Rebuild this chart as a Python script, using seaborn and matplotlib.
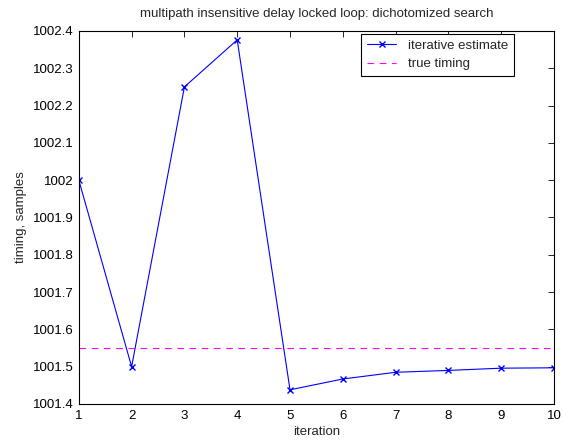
import matplotlib
matplotlib.use("Agg")
import matplotlib.pyplot as plt
import seaborn as sns
import pandas as pd
import numpy as np

# data
iteration = [1, 2, 3, 4, 5, 6, 7, 8, 9, 10]
estimate = [1002.0, 1001.5, 1002.25, 1002.376, 1001.438, 1001.467, 1001.485, 1001.49, 1001.496, 1001.497]
true_timing = 1001.55

df = pd.DataFrame({'iteration': iteration, 'timing': estimate})

sns.set_style('white')
plt.rcParams['font.family'] = ['Liberation Sans', 'DejaVu Sans']
fs = 9.5

fig = plt.figure(figsize=(5.63, 4.42), dpi=100)
ax = fig.add_axes([0.140, 0.086, 0.844, 0.844])

sns.lineplot(data=df, x='iteration', y='timing', ax=ax, color='blue', marker='x',
             markersize=4, markeredgewidth=1.0, markeredgecolor='blue', linewidth=0.8,
             label='iterative estimate')
ax.axhline(true_timing, color='magenta', linestyle=(0, (6, 5)), linewidth=0.8, label='true timing')

ax.set_xlim(1, 10)
ax.set_ylim(1001.4, 1002.4)
ax.set_xticks(iteration)
ax.set_yticks(np.round(np.arange(1001.4, 1002.41, 0.1), 1))
ax.set_yticklabels(['1001.4', '1001.5', '1001.6', '1001.7', '1001.8', '1001.9', '1002',
                    '1002.1', '1002.2', '1002.3', '1002.4'])

ax.tick_params(direction='in', length=4, width=0.6, top=True, right=True, labelsize=fs, pad=4,
               colors='black')
for s in ax.spines.values():
    s.set_color('black')
    s.set_linewidth(0.8)

ax.set_xlabel('iteration', fontsize=fs, labelpad=3)
ax.set_ylabel('timing, samples', fontsize=fs, labelpad=4)
ax.set_title('multipath insensitive delay locked loop: dichotomized search', fontsize=fs, pad=10)

# matlab-style legend box
leg = ax.legend(loc='upper right', bbox_to_anchor=(0.916, 0.992), borderaxespad=0,
                fancybox=False, shadow=False, framealpha=1, fontsize=fs, handlelength=2.2,
                handletextpad=0.9, borderpad=0.45, labelspacing=0.45)
leg.get_frame().set_edgecolor('black')
leg.get_frame().set_linewidth(0.8)

fig.savefig('out.png', dpi=100)
